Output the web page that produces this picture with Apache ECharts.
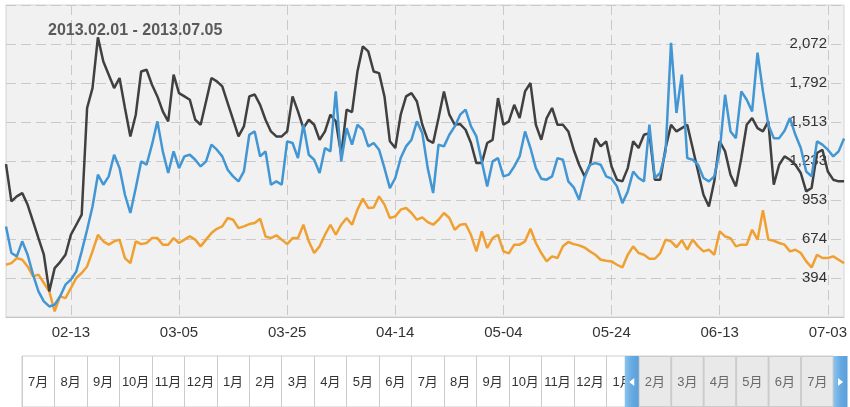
<!DOCTYPE html>
<html>
<head>
<meta charset="utf-8">
<script src="https://cdn.jsdelivr.net/npm/echarts@6/dist/echarts.min.js"></script>
<style>
html,body{margin:0;padding:0;background:#fff;}
#chart{width:850px;height:407px;}
</style>
</head>
<body>
<div id="chart"></div>
<script>
// Daily categories 2013-02-01 .. 2013-07-06
const startDate = [2013, 1, 1];
const dayCount = 156;
const dates = [];
for (let i = 0; i < dayCount; i++) {
  const d = new Date(Date.UTC(startDate[0], startDate[1], startDate[2] + i));
  const mm = String(d.getUTCMonth() + 1).padStart(2, '0');
  const dd = String(d.getUTCDate()).padStart(2, '0');
  dates.push(mm + '-' + dd);
}

const titleText = '2013.02.01 - 2013.07.05';

const darkSeries = [
1211,943,979,1003,919,800,680,561,298,465,
508,561,704,776,848,1613,1756,2120,1947,1852,
1756,1828,1613,1409,1565,1875,1887,1780,1696,1589,
1517,1852,1720,1696,1672,1529,1493,1660,1828,1804,
1768,1648,1529,1409,1481,1696,1710,1636,1529,1445,
1409,1409,1445,1696,1589,1469,1529,1493,1385,1445,
1565,1517,1278,1601,1584,1875,2055,2019,1875,1863,
1696,1374,1326,1565,1696,1720,1660,1493,1385,1362,
1541,1732,1565,1493,1498,1457,1362,1218,1218,1362,
1385,1684,1493,1517,1636,1541,1732,1792,1493,1385,
1541,1613,1493,1493,1445,1314,1206,1123,1206,1397,
1338,1374,1194,1099,1087,1182,1374,1326,1421,1433,
1099,1099,1326,1493,1445,1469,1493,1326,1158,991,
907,1087,1374,1302,1135,1051,1254,1493,1541,1469,
1445,1517,1063,1206,1266,1242,1206,1147,1015,1039,
1290,1314,1158,1099,1087,1087
];

const blueSeries = [
764,573,549,657,561,418,298,226,190,202,
262,346,382,441,585,740,907,1135,1063,1123,
1278,1182,991,860,1039,1230,1206,1350,1517,1302,
1147,1302,1182,1266,1278,1242,1194,1230,1350,1314,
1266,1170,1123,1087,1158,1421,1445,1266,1302,1063,
1087,1063,1374,1362,1254,1493,1278,1242,1147,1326,
1302,1732,1230,1469,1350,1493,1457,1338,1362,1314,
1182,1039,1111,1254,1338,1386,1517,1433,1182,1003,
1350,1338,1421,1481,1565,1601,1481,1409,1230,1051,
1230,1254,1123,1135,1194,1266,1445,1326,1182,1106,
1099,1123,1254,1242,1087,1044,955,1111,1206,1218,
1206,1123,1106,1051,931,1015,1158,1111,1087,1493,
1111,1147,1302,2080,1577,1852,1254,1242,1206,1111,
1087,1123,1302,1708,1445,1397,1732,1672,1589,2010,
1732,1493,1397,1397,1450,1541,1421,1326,1158,1123,
1374,1350,1314,1266,1302,1394
];

const orangeSeries = [
489,501,537,525,477,406,418,358,298,155,
262,250,322,394,430,477,585,704,657,633,
657,669,537,501,657,637,645,680,680,633,
633,680,645,669,692,669,621,669,716,747,
764,824,812,752,764,781,788,819,692,680,
700,669,637,680,680,776,657,573,621,704,
776,704,776,824,776,884,963,896,900,979,
920,824,836,884,896,860,812,829,795,776,
812,860,824,740,776,781,704,585,728,609,
680,704,585,570,633,633,657,747,645,573,
513,549,537,621,652,637,628,613,585,561,
525,518,513,489,470,561,621,573,561,532,
532,573,669,657,615,665,597,669,621,585,
597,561,728,692,680,621,633,633,740,669,
880,669,661,645,633,585,597,573,513,470,
561,537,537,549,525,501
];

// Y axis: labelled ticks 394 .. 2072
const yTickLow = 394, yTickHigh = 2072, yTickSteps = 6;

// Timeline months (2011-07 .. 2013-07) and selected months
const monthLabels = ['7月','8月','9月','10月','11月','12月','1月','2月','3月','4月','5月','6月',
  '7月','8月','9月','10月','11月','12月','1月','2月','3月','4月','5月','6月','7月'];
const selectedFrom = 19, selectedTo = 24;

const yInterval = (yTickHigh - yTickLow) / yTickSteps;
const yMin = yTickLow - yInterval;
const yMax = yTickHigh + yInterval;
const labelEvery = (idx) => (idx - 12) % 20 === 0;

const selData = monthLabels.map((m, i) => (i >= selectedFrom && i <= selectedTo) ? 1 : null);

const chart = echarts.init(document.getElementById('chart'), null, {renderer: 'canvas'});
const gridLineStyle = {color: '#c9c9c9', width: 1, type: [10, 5]};

chart.setOption({
  animation: false,
  backgroundColor: '#ffffff',
  title: {
    text: titleText, left: 43, top: 18,
    textStyle: {fontFamily: 'Liberation Sans, Arial', fontSize: 16, fontWeight: 'bold', color: '#5a5a5a'}
  },
  grid: [
    {left: 6, right: 2, top: 5, bottom: 90, show: true, backgroundColor: '#f1f1f1', borderColor: '#d4d4d4', borderWidth: 1},
    {left: 22, right: 16.5, top: 356, height: 70, show: true, backgroundColor: 'transparent', borderColor: '#cccccc', borderWidth: 1}
  ],
  xAxis: [
    {
      type: 'category', gridIndex: 0, data: dates, boundaryGap: false,
      axisLine: {show: true, lineStyle: {color: '#c4c4c4'}},
      axisTick: {show: false},
      axisLabel: {interval: labelEvery, margin: 8, fontSize: 15, color: '#333', fontFamily: 'Liberation Sans, Arial'},
      splitLine: {show: true, interval: labelEvery, lineStyle: gridLineStyle}
    },
    {
      type: 'category', gridIndex: 1, data: monthLabels, boundaryGap: true, position: 'top',
      axisLine: {show: true, lineStyle: {color: '#cccccc'}},
      axisTick: {show: false},
      axisLabel: {
        inside: true, interval: 0, margin: 26, verticalAlign: 'middle', fontSize: 13,
        fontFamily: 'Liberation Sans, Noto Sans CJK SC',
        color: (v, i) => (i >= selectedFrom ? '#6a6a6a' : '#333')
      },
      splitLine: {show: true, interval: 0, lineStyle: {color: '#cccccc', width: 1}}
    }
  ],
  yAxis: [
    {
      type: 'value', gridIndex: 0, position: 'right', min: yMin, max: yMax, interval: yInterval,
      axisLine: {show: false}, axisTick: {show: false},
      axisLabel: {
        inside: true, margin: 17, fontSize: 15, color: '#333', fontFamily: 'Liberation Sans, Arial',
        showMinLabel: false, showMaxLabel: false,
        formatter: (v) => Math.round(v).toLocaleString('en-US')
      },
      splitLine: {show: true, lineStyle: gridLineStyle}
    },
    {type: 'value', gridIndex: 1, min: 0, max: 1, show: false}
  ],
  series: [
    {name: 'dark', type: 'line', xAxisIndex: 0, yAxisIndex: 0, data: darkSeries, showSymbol: false,
      lineStyle: {color: '#404040', width: 2.5}, itemStyle: {color: '#404040'}, z: 3},
    {name: 'blue', type: 'line', xAxisIndex: 0, yAxisIndex: 0, data: blueSeries, showSymbol: false,
      lineStyle: {color: '#4296d3', width: 2.5}, itemStyle: {color: '#4296d3'}, z: 4},
    {name: 'orange', type: 'line', xAxisIndex: 0, yAxisIndex: 0, data: orangeSeries, showSymbol: false,
      lineStyle: {color: '#f0a030', width: 2.5}, itemStyle: {color: '#f0a030'}, z: 2},
    {name: 'sel', type: 'bar', xAxisIndex: 1, yAxisIndex: 1, data: selData, barCategoryGap: '0%',
      itemStyle: {color: '#e9e9e9', borderColor: '#cccccc', borderWidth: 1}, z: -1, silent: true}
  ]
});

// Timeline handles placed from the month axis scale
const pA = chart.convertToPixel({xAxisIndex: 1}, 0);
const pB = chart.convertToPixel({xAxisIndex: 1}, 1);
const band = pB - pA;
const selStart = chart.convertToPixel({xAxisIndex: 1}, selectedFrom) - band / 2;
const selEnd = chart.convertToPixel({xAxisIndex: 1}, selectedTo) + band / 2;
const hTop = 356, hH = 60, hW = 14, midY = 382;
const handleFill = new echarts.graphic.LinearGradient(0, 0, 1, 0, [
  {offset: 0, color: '#8cc2ec'}, {offset: 0.5, color: '#67aae2'}, {offset: 1, color: '#5a9fd9'}
]);
chart.setOption({
  graphic: [
    {type: 'rect', z: 100, shape: {x: selStart - hW, y: hTop, width: hW, height: hH}, style: {fill: handleFill}},
    {type: 'polygon', z: 101, shape: {points: [[selStart - 4.5, midY - 4], [selStart - 4.5, midY + 4], [selStart - 9.5, midY]]}, style: {fill: '#ffffff'}},
    {type: 'rect', z: 100, shape: {x: selEnd, y: hTop, width: hW, height: hH}, style: {fill: handleFill}},
    {type: 'polygon', z: 101, shape: {points: [[selEnd + 4.5, midY - 4], [selEnd + 4.5, midY + 4], [selEnd + 9.5, midY]]}, style: {fill: '#ffffff'}}
  ]
});
</script>
</body>
</html>
